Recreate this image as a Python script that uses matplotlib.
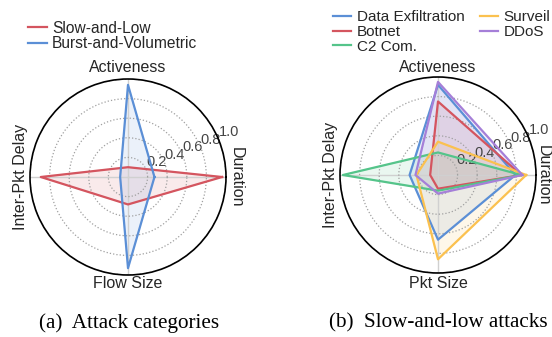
import numpy as np
import matplotlib
matplotlib.use("Agg")
import matplotlib.pyplot as plt

plt.rcParams['font.family'] = ['Liberation Sans', 'DejaVu Sans']
TXT = '#262626'

# --- data -------------------------------------------------------------
cats_a = ["Duration", "Activeness", "Inter-Pkt Delay", "Flow Size"]
slow_low = [0.96, 0.10, 0.89, 0.28]
burst_vol = [0.27, 0.94, 0.08, 0.93]

cats_b = ["Duration", "Activeness", "Inter-Pkt Delay", "Pkt Size"]
data_exfil = [0.79, 0.92, 0.29, 0.66]
botnet = [0.85, 0.75, 0.08, 0.14]
c2_com = [0.85, 0.23, 0.97, 0.16]
surveil = [0.90, 0.34, 0.22, 0.86]
ddos = [0.86, 0.95, 0.23, 0.19]

rticks = [0.2, 0.4, 0.6, 0.8, 1.0]
rtick_labels = ["0.2", "0.4", "0.6", "0.8", "1.0"]

C_BLUE = '#5b8fd6'
C_RED = '#d4555f'
C_GREEN = '#55c48a'
C_YELLOW = '#fbc14f'
C_PURPLE = '#a57fd8'

fig = plt.figure(figsize=(5.52, 3.37), dpi=100)


def setup(ax, cats):
    ax.set_ylim(0, 1.0)
    ax.set_yticks(rticks)
    ax.set_yticklabels(rtick_labels, fontsize=10.5, color='#444444')
    ax.set_rlabel_position(22.5)
    ax.set_xticks(np.deg2rad([0, 90, 180, 270]))
    ax.set_xticklabels([])
    ax.xaxis.grid(True, color='#d0d0d0', linestyle='-', linewidth=1.0)
    ax.yaxis.grid(True, color='#a0a0a0', linestyle=':', linewidth=0.9)
    ax.spines['polar'].set_color('black')
    ax.spines['polar'].set_linewidth(1.2)
    ax.set_facecolor('white')
    ax.tick_params(axis='y', pad=0)


def draw(ax, vals, color, label):
    th = np.deg2rad([0, 90, 180, 270])
    t = np.concatenate([th, th[:1]])
    v = np.concatenate([vals, vals[:1]])
    ax.plot(t, v, color=color, lw=1.6, label=label)
    ax.fill(t, v, color=color, alpha=0.12)


# ---- panel (a)
axa = fig.add_axes([30 / 552, 62 / 337, 196 / 552, 196 / 337], projection='polar')
setup(axa, cats_a)
draw(axa, slow_low, C_RED, "Slow-and-Low")
draw(axa, burst_vol, C_BLUE, "Burst-and-Volumetric")

# ---- panel (b)
axb = fig.add_axes([340 / 552, 64 / 337, 196 / 552, 196 / 337], projection='polar')
setup(axb, cats_b)
draw(axb, data_exfil, C_BLUE, "Data Exfiltration")
draw(axb, botnet, C_RED, "Botnet")
draw(axb, c2_com, C_GREEN, "C2 Com.")
draw(axb, surveil, C_YELLOW, "Surveil")
draw(axb, ddos, C_PURPLE, "DDoS")


def labels(ax, cats, cx, cy, dx_right):
    fs = 11.5
    fig.text(cx / 552, 1 - 67 / 337, cats[1], ha='center', va='center', fontsize=fs, color=TXT)
    fig.text(cx / 552, 1 - 284 / 337, cats[3], ha='center', va='center', fontsize=fs, color=TXT)
    fig.text((cx + dx_right) / 552, 1 - cy / 337, cats[0], ha='center', va='center', fontsize=fs,
             rotation=-90, color=TXT)
    fig.text((cx - 107) / 552, 1 - cy / 337, cats[2], ha='center', va='center', fontsize=fs,
             rotation=90, color=TXT)


labels(axa, cats_a, 128, 177, 108)
labels(axb, cats_b, 438, 175, 105)

# legends
la = axa.legend(loc='center left', bbox_to_anchor=(28 / 552, 1 - 36 / 337),
                bbox_transform=fig.transFigure, frameon=False, fontsize=11.2,
                handlelength=1.2, handletextpad=0.35, labelspacing=0.05,
                borderpad=0, borderaxespad=0, labelcolor=TXT)
lb = axb.legend(loc='center left', bbox_to_anchor=(333 / 552, 1 - 32 / 337),
                bbox_transform=fig.transFigure, frameon=False, fontsize=11, ncol=2,
                handlelength=1.2, handletextpad=0.35, labelspacing=0.05, columnspacing=1.0,
                borderpad=0, borderaxespad=0, labelcolor=TXT)
for leg in (la, lb):
    for h in leg.get_lines():
        h.set_linewidth(1.6)

# captions
fig.text(129 / 552, 1 - 323 / 337, "(a)  Attack categories", ha='center', va='center',
         fontsize=15.2, family='Liberation Serif', color='black')
fig.text(438 / 552, 1 - 323 / 337, "(b)  Slow-and-low attacks", ha='center', va='center',
         fontsize=15.2, family='Liberation Serif', color='black')

fig.savefig('out.png', dpi=100)
